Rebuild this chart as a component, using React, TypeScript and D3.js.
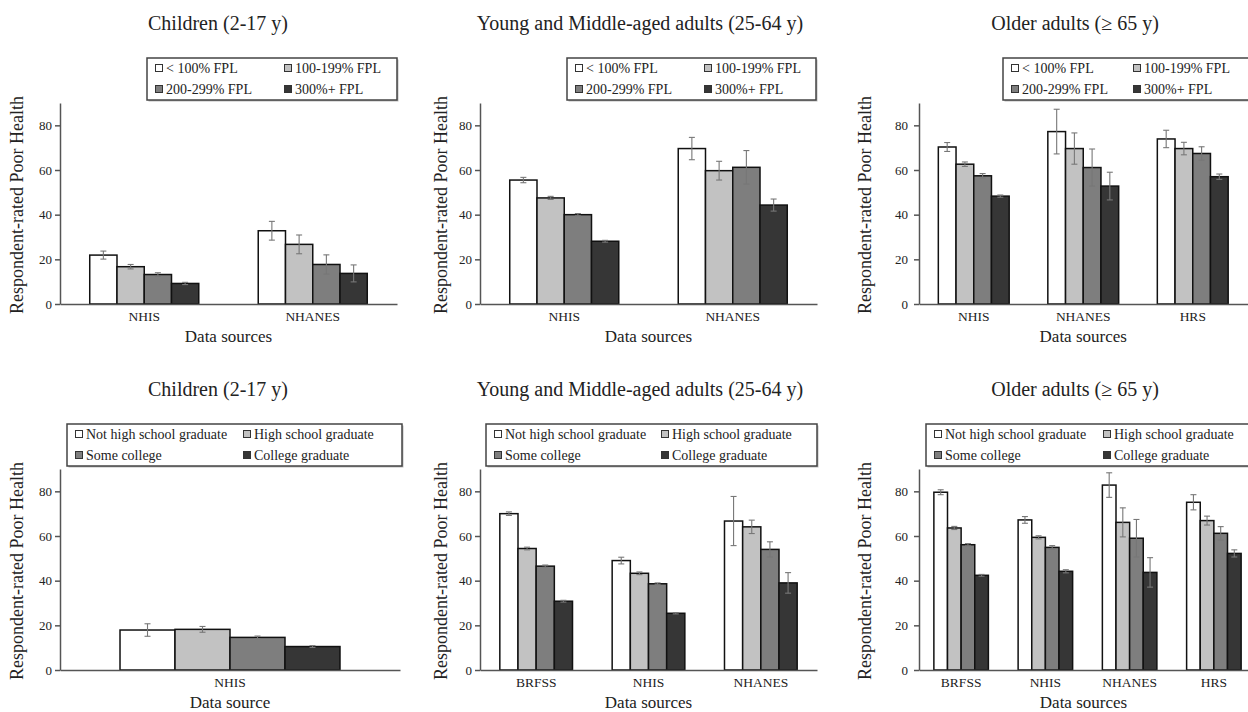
import { useEffect, useRef } from "react";
import * as d3 from "d3";

// legend groups
const FPL_GROUPS = ["< 100% FPL", "100-199% FPL", "200-299% FPL", "300%+ FPL"];
const EDU_GROUPS = ["Not high school graduate", "High school graduate", "Some college", "College graduate"];
const COLORS = ["#ffffff", "#c2c2c2", "#7e7e7e", "#363636"];
const Y_TICKS = [0, 20, 40, 60, 80];

// income panels
const childIncomeSources = ["NHIS", "NHANES"];
const childIncomeValues = [[21.9, 16.7, 13.2, 9.2], [32.8, 26.7, 17.7, 13.7]];
const childIncomeErrors = [[1.8, 1.0, 0.8, 0.5], [4.2, 4.2, 4.3, 3.8]];

const adultIncomeSources = ["NHIS", "NHANES"];
const adultIncomeValues = [[55.5, 47.5, 40.0, 28.1], [69.6, 59.7, 61.2, 44.3]];
const adultIncomeErrors = [[1.2, 0.7, 0.5, 0.4], [5.0, 4.2, 7.5, 2.7]];

const olderIncomeSources = ["NHIS", "NHANES", "HRS"];
const olderIncomeValues = [[70.3, 62.6, 57.4, 48.3], [77.2, 69.6, 61.1, 52.8], [73.9, 69.6, 67.4, 57.0]];
const olderIncomeErrors = [[2.0, 1.0, 1.0, 0.5], [10.0, 7.0, 8.3, 6.2], [3.9, 2.8, 3.0, 1.2]];

// education panels
const childEduSources = ["NHIS"];
const childEduValues = [[17.9, 18.2, 14.6, 10.5]];
const childEduErrors = [[2.8, 1.3, 0.6, 0.4]];

const adultEduSources = ["BRFSS", "NHIS", "NHANES"];
const adultEduValues = [[70.0, 54.4, 46.5, 30.8], [49.0, 43.3, 38.6, 25.4], [66.7, 64.1, 54.0, 39.0]];
const adultEduErrors = [[0.8, 0.6, 0.5, 0.4], [1.5, 0.6, 0.4, 0.3], [11.0, 3.0, 3.4, 4.6]];

const olderEduSources = ["BRFSS", "NHIS", "NHANES", "HRS"];
const olderEduValues = [[79.6, 63.6, 56.1, 42.4], [67.2, 59.4, 54.9, 44.2], [82.8, 66.1, 59.0, 43.7], [75.1, 66.9, 61.2, 52.2]];
const olderEduErrors = [[1.1, 0.7, 0.5, 0.4], [1.5, 0.7, 0.8, 0.7], [5.5, 6.5, 8.4, 6.6], [3.4, 2.0, 3.0, 1.6]];

const SERIF = "Liberation Serif, Times New Roman, serif";

type PanelProps = {
  title: string;
  titleX: number;
  sources: string[];
  values: number[][];
  errors: number[][];
  groups: string[];
  xLabel: string;
  left: number;
  right: number;
  rowY: number;
  yTitleX: number;
  tickPad: number;
  legend: { x: number; w: number; col2: number };
};

const Panel = ({ title, titleX, sources, values, errors, groups, xLabel, left, right, rowY, yTitleX, tickPad, legend }: PanelProps) => {
  const yAxisRef = useRef<SVGGElement>(null);
  const xAxisRef = useRef<SVGGElement>(null);

  const yScale = d3.scaleLinear().domain([0, 90]).range([rowY + 304, rowY + 103]);
  const xScale = d3.scaleBand().domain(sources).range([left, right]).paddingInner(0.353).paddingOuter(0.1765);
  const inner = d3.scaleBand<number>().domain(d3.range(groups.length)).range([0, xScale.bandwidth()]);

  // axes are drawn by d3, then restyled to look like the printed figure
  useEffect(() => {
    const g = d3.select(yAxisRef.current);
    g.selectAll("*").remove();
    g.call(d3.axisLeft(yScale).tickValues(Y_TICKS).tickSize(5).tickSizeOuter(0).tickPadding(tickPad - 5));
    g.attr("font-family", SERIF).attr("font-size", 13);
    g.selectAll("path, line").attr("stroke", "#555").attr("stroke-width", 1.5);
    g.selectAll("text").attr("fill", "#222");

    const gx = d3.select(xAxisRef.current);
    gx.selectAll("*").remove();
    gx.call(d3.axisBottom(xScale).tickSize(0).tickSizeOuter(0).tickPadding(7));
    gx.attr("font-family", SERIF).attr("font-size", 13.5);
    gx.selectAll("path").attr("stroke", "#555").attr("stroke-width", 1.5);
    gx.selectAll("text").attr("fill", "#222");
  }, [sources, left, right, rowY]);

  const legendTop = rowY + 58;
  const legendRows = [rowY + 73, rowY + 94];

  return (
    <g>
      <text x={titleX} y={rowY + 30} textAnchor="middle" fontSize={20} fill="#222">
        {title}
      </text>

      {/* legend */}
      <rect x={legend.x + 1.5} y={legendTop + 1.5} width={legend.w} height={42} fill="#bbb" />
      <rect x={legend.x} y={legendTop} width={legend.w} height={42} fill="#fff" stroke="#444" strokeWidth={1.5} />
      {groups.map((name, i) => {
        const lx = legend.x + (i % 2 === 0 ? 12 : legend.col2);
        const ly = legendRows[Math.floor(i / 2)];
        return (
          <g key={name}>
            <rect x={lx - 3.5} y={ly - 8.5} width={7} height={7} fill={COLORS[i]} stroke="#333" strokeWidth={1} />
            <text x={lx + 7} y={ly} fontSize={14} fill="#222">
              {name}
            </text>
          </g>
        );
      })}

      {/* bars */}
      {sources.map((src, si) =>
        values[si].map((v, gi) => (
          <rect
            key={src + gi}
            x={(xScale(src) ?? 0) + (inner(gi) ?? 0)}
            y={yScale(v)}
            width={inner.bandwidth()}
            height={yScale(0) - yScale(v)}
            fill={COLORS[gi]}
            stroke="#111"
            strokeWidth={1.5}
          />
        ))
      )}

      {/* error bars */}
      {sources.map((src, si) =>
        values[si].map((v, gi) => {
          const cx = (xScale(src) ?? 0) + (inner(gi) ?? 0) + inner.bandwidth() / 2;
          const e = errors[si][gi];
          return (
            <g key={"e" + src + gi} stroke="#777" strokeWidth={1.1}>
              <line x1={cx} x2={cx} y1={yScale(v + e)} y2={yScale(v - e)} />
              <line x1={cx - 3} x2={cx + 3} y1={yScale(v + e)} y2={yScale(v + e)} />
              <line x1={cx - 3} x2={cx + 3} y1={yScale(v - e)} y2={yScale(v - e)} />
            </g>
          );
        })
      )}

      <g ref={xAxisRef} transform={`translate(0,${yScale(0)})`} />
      <g ref={yAxisRef} transform={`translate(${left},0)`} />

      <text x={(left + Math.min(right, 1248)) / 2} y={rowY + 342} textAnchor="middle" fontSize={17} fill="#222">
        {xLabel}
      </text>
      <text
        transform={`translate(${yTitleX},${rowY + 205}) rotate(-90)`}
        textAnchor="middle"
        dominantBaseline="middle"
        fontSize={18}
        fill="#222"
      >
        Respondent-rated Poor Health
      </text>
    </g>
  );
};

export default function App() {
  const BOTTOM = 366;
  return (
    <svg
      width={1248}
      height={712}
      fontFamily={SERIF}
      style={{ position: "absolute", left: 0, top: 0, background: "#fff" }}
    >
      <Panel title="Children (2-17 y)" titleX={218} sources={childIncomeSources} values={childIncomeValues} errors={childIncomeErrors}
        groups={FPL_GROUPS} xLabel="Data sources" left={60} right={397} rowY={0} yTitleX={19} tickPad={8}
        legend={{ x: 147, w: 250, col2: 141 }} />
      <Panel title="Young and Middle-aged adults (25-64 y)" titleX={640} sources={adultIncomeSources} values={adultIncomeValues} errors={adultIncomeErrors}
        groups={FPL_GROUPS} xLabel="Data sources" left={480} right={817} rowY={0} yTitleX={443} tickPad={8}
        legend={{ x: 567, w: 249, col2: 141 }} />
      <Panel title="Older adults (≥ 65 y)" titleX={1075} sources={olderIncomeSources} values={olderIncomeValues} errors={olderIncomeErrors}
        groups={FPL_GROUPS} xLabel="Data sources" left={919} right={1247.5} rowY={0} yTitleX={867} tickPad={11}
        legend={{ x: 1003, w: 250, col2: 134 }} />

      <Panel title="Children (2-17 y)" titleX={218} sources={childEduSources} values={childEduValues} errors={childEduErrors}
        groups={EDU_GROUPS} xLabel="Data source" left={60} right={400} rowY={BOTTOM} yTitleX={19} tickPad={8}
        legend={{ x: 67, w: 335, col2: 180 }} />
      <Panel title="Young and Middle-aged adults (25-64 y)" titleX={640} sources={adultEduSources} values={adultEduValues} errors={adultEduErrors}
        groups={EDU_GROUPS} xLabel="Data sources" left={480} right={817} rowY={BOTTOM} yTitleX={443} tickPad={8}
        legend={{ x: 486, w: 331, col2: 179 }} />
      <Panel title="Older adults (≥ 65 y)" titleX={1075} sources={olderEduSources} values={olderEduValues} errors={olderEduErrors}
        groups={EDU_GROUPS} xLabel="Data sources" left={919} right={1256} rowY={BOTTOM} yTitleX={867} tickPad={11}
        legend={{ x: 926, w: 335, col2: 181 }} />
    </svg>
  );
}
